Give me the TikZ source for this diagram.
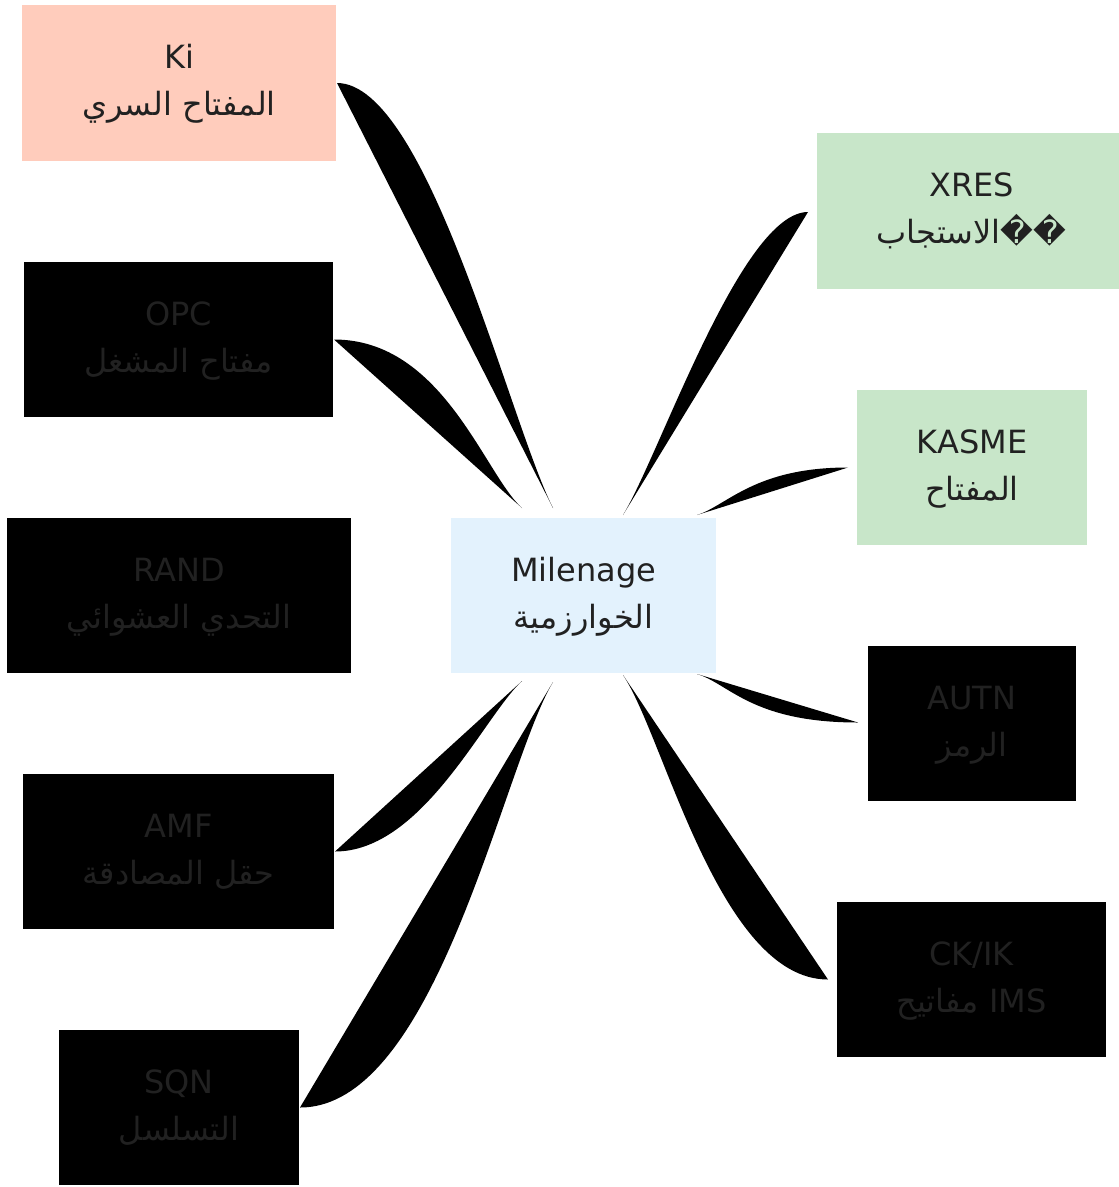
\documentclass[tikz,border=0pt]{standalone}
\usepackage{fontspec}
\setmainfont{DejaVu Sans}
\newfontfamily\arabicfont[Script=Arabic]{DejaVu Sans}
\TeXXeTstate=1
\usetikzlibrary{calc}
\definecolor{txt}{HTML}{212121}
\definecolor{kifill}{HTML}{FFCCBC}
\definecolor{algfill}{HTML}{E3F2FD}
\definecolor{outfill}{HTML}{C8E6C9}
\newcommand\twolines[2]{\smash{\makebox[0pt][c]{\raisebox{14.5pt}{#1}}\makebox[0pt][c]{\raisebox{-32.5pt}{#2}}}}
\newcommand\arline[1]{{\arabicfont\beginR #1\endR}}
% #1 = bulge factor, #2 = leaf end, #3 = centre end
\newcommand\branch[3]{%
  \coordinate (ctlA) at ($(#2)!#1!(#3)$);
  \coordinate (ctlB) at ($(#3)!0.2!(#2)$);
  \fill[branchfill] (#2) .. controls (ctlA |- #2) and (ctlB) .. (#3) -- cycle;}
\begin{document}
\begin{tikzpicture}[x=1pt,y=-1pt,
  box/.style={rectangle, inner sep=0pt, outer sep=0pt, draw=none, text=txt,
    font=\fontsize{32}{38}\selectfont},
  branchfill/.style={fill=black, draw=none}]
\useasboundingbox (0,0) rectangle (1119,1187);
% input nodes
\node[box, fill=kifill, minimum width=314pt, minimum height=156pt] (ki) at (179,83)
  {\twolines{Ki}{\arline{المفتاح السري}}};
\node[box, fill=black, minimum width=309pt, minimum height=155pt] (opc) at (178.5,339.5)
  {\twolines{OPC}{\arline{مفتاح المشغل}}};
\node[box, fill=black, minimum width=344pt, minimum height=155pt] (rand) at (179,595.5)
  {\twolines{RAND}{\arline{التحدي العشوائي}}};
\node[box, fill=black, minimum width=311pt, minimum height=155pt] (amf) at (178.5,851.5)
  {\twolines{AMF}{\arline{حقل المصادقة}}};
\node[box, fill=black, minimum width=240pt, minimum height=155pt] (sqn) at (179,1107.5)
  {\twolines{SQN}{\arline{التسلسل}}};
% algorithm
\node[box, fill=algfill, minimum width=265pt, minimum height=155pt] (m) at (583.5,595.5)
  {\twolines{Milenage}{\arline{الخوارزمية}}};
% outputs
\node[box, fill=outfill, minimum width=309pt, minimum height=156pt] (xres) at (971.5,211)
  {\twolines{XRES}{\arline{��الاستجاب}}};
\node[box, fill=outfill, minimum width=230pt, minimum height=155pt] (kasme) at (972,467.5)
  {\twolines{KASME}{\arline{المفتاح}}};
\node[box, fill=black, minimum width=208pt, minimum height=155pt] (autn) at (972,723.5)
  {\twolines{AUTN}{\arline{الرمز}}};
\node[box, fill=black, minimum width=269pt, minimum height=155pt] (ck) at (971.5,979.5)
  {\twolines{CK/IK}{\arline{\beginL IMS\endL{} مفاتيح}}};
% connector ends
\coordinate (kiE) at ($(ki.east)+(1,0)$);
\coordinate (opcE) at ($(opc.east)+(1,0)$);
\coordinate (amfE) at ($(amf.east)+(1,0)$);
\coordinate (sqnE) at ($(sqn.east)+(1,0)$);
\coordinate (xresW) at ($(xres.west)+(-9,1)$);
\coordinate (kasmeW) at ($(kasme.west)+(-9,0)$);
\coordinate (autnW) at ($(autn.west)+(-10,-1)$);
\coordinate (ckW) at ($(ck.west)+(-9,0)$);
\coordinate (mKi) at ($(m.north)+(-30.5,-10)$);
\coordinate (mOpc) at ($(m.north)+(-61.5,-10)$);
\coordinate (mAmf) at ($(m.south)+(-61.5,8)$);
\coordinate (mSqn) at ($(m.south)+(-30.5,9)$);
\coordinate (mXres) at ($(m.north)+(39.5,-3)$);
\coordinate (mKasme) at ($(m.north)+(113.5,-3)$);
\coordinate (mCk) at ($(m.south)+(39.5,2)$);
\coordinate (mAutn) at ($(m.south)+(113.5,1)$);
% connectors
\branch{0.42}{kiE}{mKi}
\branch{0.58}{opcE}{mOpc}
\branch{0.47}{amfE}{mAmf}
\branch{0.54}{sqnE}{mSqn}
\branch{0.36}{xresW}{mXres}
\branch{0.62}{kasmeW}{mKasme}
\branch{0.66}{autnW}{mAutn}
\branch{0.53}{ckW}{mCk}
\end{tikzpicture}
\end{document}
